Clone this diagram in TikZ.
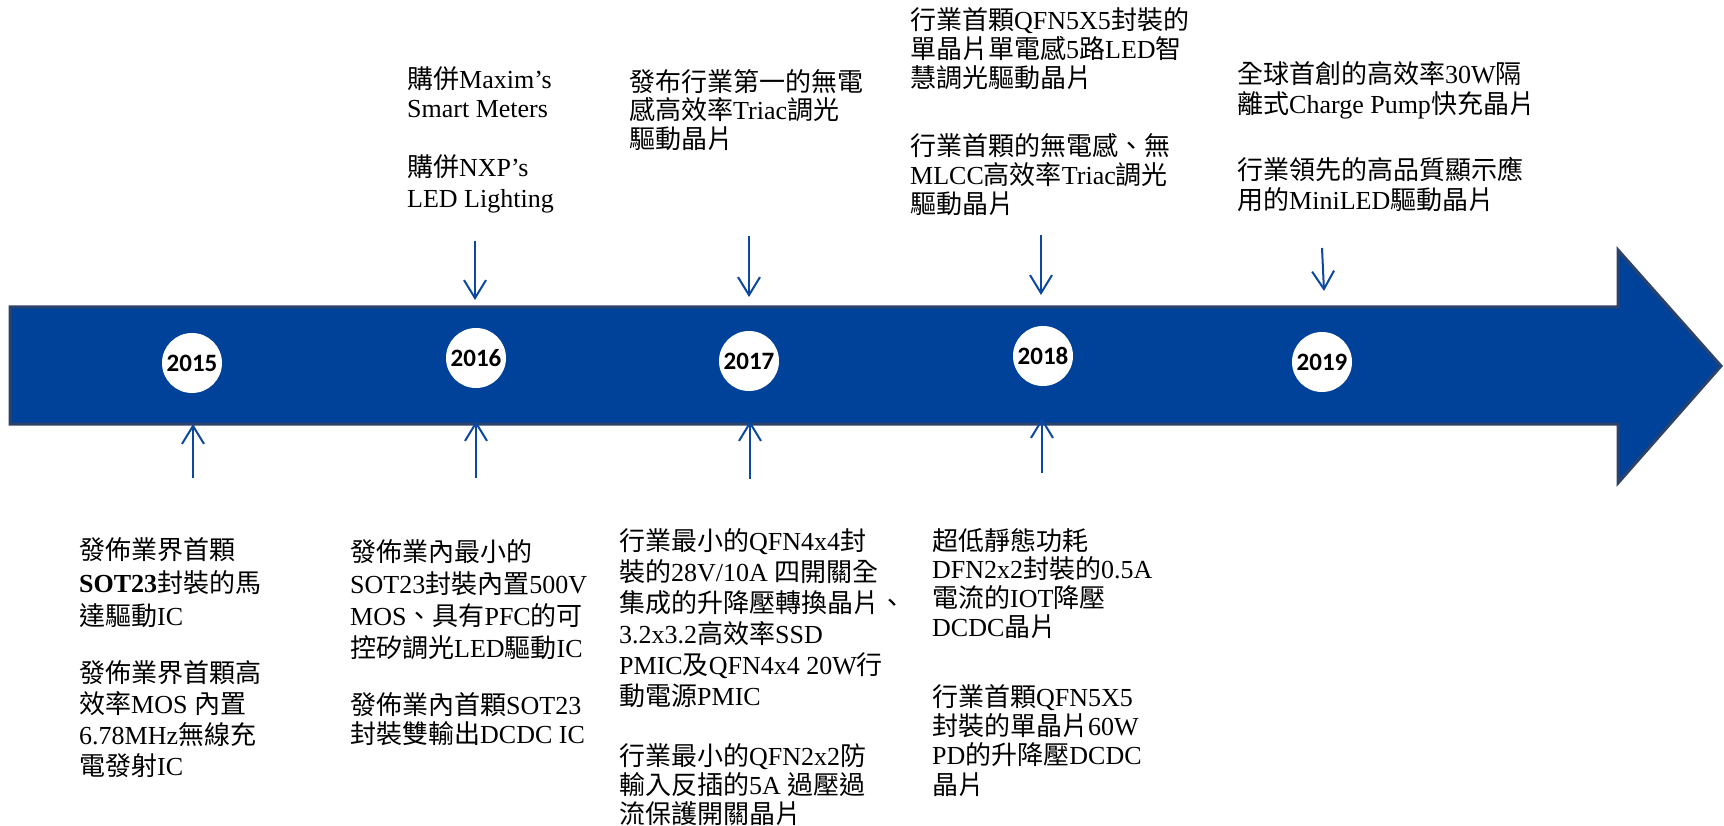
\documentclass[tikz,border=0pt]{standalone}
\usepackage{fontspec}
\setmainfont{Liberation Serif}
\newfontfamily\cjkf{Noto Sans CJK TC}
\newfontfamily\yearf{Carlito}
\usetikzlibrary{arrows.meta}
\XeTeXinterchartokenstate=1
\newXeTeXintercharclass\CJKcls
\newcount\cjkcnt
\def\setcjkrange#1#2{\cjkcnt=#1 \loop\XeTeXcharclass\cjkcnt=\CJKcls\advance\cjkcnt by 1 \ifnum\cjkcnt<#2 \repeat}
\setcjkrange{"3000}{"3040}
\setcjkrange{"4E00}{"A000}
\setcjkrange{"FF00}{"FFF0}
\XeTeXinterchartoks 0 \CJKcls = {\cjkf}
\XeTeXinterchartoks 4095 \CJKcls = {\cjkf}
\XeTeXinterchartoks \CJKcls 0 = {\rmfamily}
\definecolor{bandblue}{RGB}{0,66,154}
\definecolor{bandedge}{RGB}{44,66,104}
\definecolor{arrblue}{RGB}{12,72,160}
\begin{document}
\begin{tikzpicture}[x=1pt,y=-1pt,
  txt/.style={anchor=north west,inner sep=0pt,align=left,font=\fontsize{26}{#1}\selectfont},
  yearnode/.style={circle,fill=white,minimum size=60pt,inner sep=0pt,font=\yearf\bfseries\fontsize{25}{25}\selectfont},
  evarrow/.style={draw=arrblue,line width=2pt,-{Straight Barb[length=18pt,width=22pt]}}]
\useasboundingbox (0,0) rectangle (1724,826);
% timeline band
\draw[fill=bandblue,draw=bandedge,line width=3pt,line join=miter]
  (10,307) -- (1618,307) -- (1618,250) -- (1721,366) -- (1618,483) -- (1618,424) -- (10,424) -- cycle;
% years
\node[yearnode] (y2015) at (192,363) {2015};
\node[yearnode] (y2016) at (476,358) {2016};
\node[yearnode] (y2017) at (749,361) {2017};
\node[yearnode] (y2018) at (1043,356) {2018};
\node[yearnode] (y2019) at (1322,362) {2019};
% arrow endpoints
\coordinate (d16s) at (475,241); \coordinate (d16e) at (475,300);
\coordinate (d17s) at (749,236); \coordinate (d17e) at (749,297);
\coordinate (d18s) at (1041,235); \coordinate (d18e) at (1041,295);
\coordinate (d19s) at (1322,248); \coordinate (d19e) at (1324,291);
\coordinate (u15s) at (193,478); \coordinate (u15e) at (193,424);
\coordinate (u16s) at (476,478); \coordinate (u16e) at (476,421);
\coordinate (u17s) at (750,479); \coordinate (u17e) at (750,421);
\coordinate (u18s) at (1042,473); \coordinate (u18e) at (1042,418);
\draw[evarrow] (d16s) -- (d16e);
\draw[evarrow] (d17s) -- (d17e);
\draw[evarrow] (d18s) -- (d18e);
\draw[evarrow] (d19s) -- (d19e);
\draw[evarrow] (u15s) -- (u15e);
\draw[evarrow] (u16s) -- (u16e);
\draw[evarrow] (u17s) -- (u17e);
\draw[evarrow] (u18s) -- (u18e);
% top texts
\node[txt=29] (t16a) at (407,66) {購併Maxim’s\\Smart Meters};
\node[txt=31] (t16b) at (407,154) {購併NXP’s\\LED Lighting};
\node[txt=28.5] (t17) at (629,69) {發布行業第一的無電\\感高效率Triac調光\\驅動晶片};
\node[txt=29] (t18a) at (910,7) {行業首顆QFN5X5封裝的\\單晶片單電感5路LED智\\慧調光驅動晶片};
\node[txt=29] (t18b) at (910,133) {行業首顆的無電感、無\\MLCC高效率Triac調光\\驅動晶片};
\node[txt=30] (t19a) at (1237,61) {全球首創的高效率30W隔\\離式Charge Pump快充晶片};
\node[txt=30] (t19b) at (1237,157) {行業領先的高品質顯示應\\用的MiniLED驅動晶片};
% bottom texts
\node[txt=33] (b15a) at (79,537) {發佈業界首顆\\\textbf{SOT23}封裝的馬\\達驅動IC};
\node[txt=31] (b15b) at (79,660) {發佈業界首顆高\\效率MOS 內置\\6.78MHz無線充\\電發射IC};
\node[txt=32] (b16a) at (350,539) {發佈業內最小的\\SOT23封裝內置500V\\MOS、具有PFC的可\\控矽調光LED驅動IC};
\node[txt=29] (b16b) at (350,692) {發佈業內首顆SOT23\\封裝雙輸出DCDC IC};
\node[txt=31] (b17a) at (619,528) {行業最小的QFN4x4封\\裝的28V/10A 四開關全\\集成的升降壓轉換晶片、\\3.2x3.2高效率SSD\\PMIC及QFN4x4 20W行\\動電源PMIC};
\node[txt=29] (b17b) at (619,743) {行業最小的QFN2x2防\\輸入反插的5A 過壓過\\流保護開關晶片};
\node[txt=28.7] (b18a) at (932,528) {超低靜態功耗\\DFN2x2封裝的0.5A\\電流的IOT降壓\\DCDC晶片};
\node[txt=29.3] (b18b) at (932,684) {行業首顆QFN5X5\\封裝的單晶片60W\\PD的升降壓DCDC\\晶片};
\end{tikzpicture}
\end{document}
